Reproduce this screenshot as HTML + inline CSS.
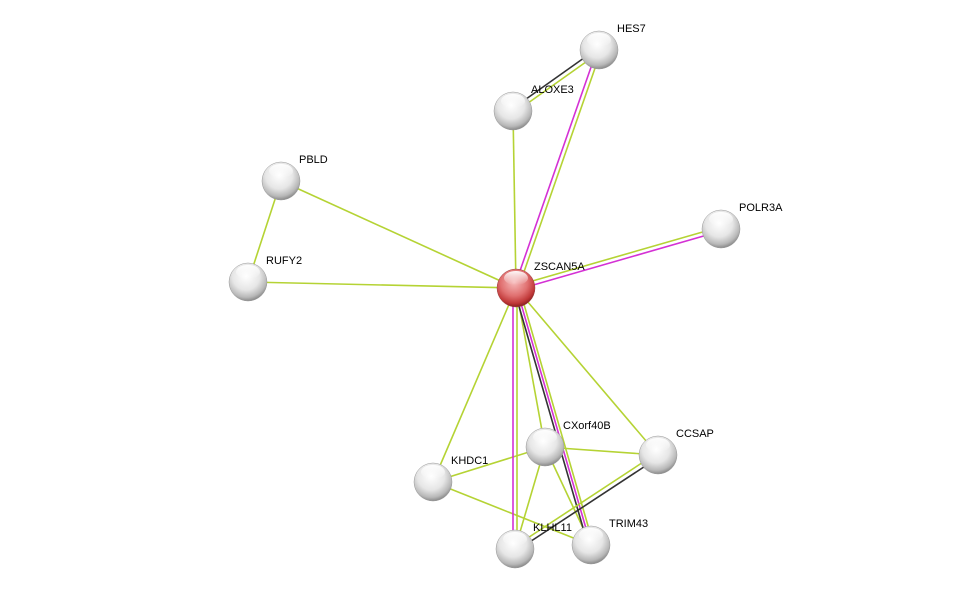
<!DOCTYPE html>
<html><head><meta charset="utf-8"><style>
html,body{margin:0;padding:0;background:#fff;}
svg{display:block;}
text{font-family:"Liberation Sans",sans-serif;font-size:11px;fill:#000;}
</style></head><body>
<svg width="976" height="595" viewBox="0 0 976 595">
<defs>
<radialGradient id="g" cx="45%" cy="35%" r="65%">
<stop offset="0" stop-color="#fff"/><stop offset="0.55" stop-color="#e6e6e6"/><stop offset="0.85" stop-color="#b8b8b8"/><stop offset="1" stop-color="#8a8a8a"/>
</radialGradient>
<radialGradient id="r" cx="45%" cy="35%" r="65%">
<stop offset="0" stop-color="#f6b8b8"/><stop offset="0.55" stop-color="#e07070"/><stop offset="0.85" stop-color="#c03838"/><stop offset="1" stop-color="#8a2020"/>
</radialGradient>
<linearGradient id="hl" x1="0" y1="0" x2="0" y2="1">
<stop offset="0" stop-color="#fff" stop-opacity="0.95"/><stop offset="1" stop-color="#fff" stop-opacity="0"/>
</linearGradient>
</defs>
<g stroke-width="1.6" fill="none">
<!-- single green -->
<g stroke="#b5d334">
<line x1="516" y1="288" x2="513" y2="111"/>
<line x1="516" y1="288" x2="281" y2="181"/>
<line x1="281" y1="181" x2="248" y2="282"/>
<line x1="248" y1="282" x2="516" y2="288"/>
<line x1="516" y1="288" x2="433" y2="482"/>
<line x1="516" y1="288" x2="545" y2="447"/>
<line x1="516" y1="288" x2="658" y2="455"/>
<line x1="433" y1="482" x2="545" y2="447"/>
<line x1="433" y1="482" x2="591" y2="545"/>
<line x1="545" y1="447" x2="658" y2="455"/>
<line x1="545" y1="447" x2="515" y2="549"/>
<line x1="545" y1="447" x2="591" y2="545"/>
</g>
<!-- HES7 -->
<line x1="514" y1="288" x2="597" y2="50" stroke="#d431d4"/>
<line x1="518" y1="289" x2="601" y2="51" stroke="#b5d334"/>
<!-- ALOXE3-HES7 -->
<line x1="512" y1="109" x2="598" y2="48" stroke="#333"/>
<line x1="514" y1="113" x2="600" y2="52" stroke="#b5d334"/>
<!-- POLR3A -->
<line x1="516" y1="290" x2="721" y2="231" stroke="#d431d4"/>
<line x1="515" y1="286" x2="720" y2="227" stroke="#b5d334"/>
<!-- KLHL11 -->
<line x1="513" y1="288" x2="513" y2="549" stroke="#d431d4"/>
<line x1="517" y1="288" x2="517" y2="549" stroke="#b5d334"/>
<!-- TRIM43 triple -->
<line x1="514" y1="289" x2="588" y2="545" stroke="#333"/>
<line x1="516.5" y1="288" x2="590.5" y2="544" stroke="#d431d4"/>
<line x1="519" y1="287" x2="593" y2="543" stroke="#b5d334"/>
<!-- CCSAP-KLHL11 -->
<line x1="659" y1="457" x2="516" y2="551" stroke="#333"/>
<line x1="657" y1="453" x2="514" y2="547" stroke="#b5d334"/>
</g>
<g>
<circle cx="599" cy="50" r="19" fill="url(#g)" stroke="#999" stroke-width="0.5"/>
<circle cx="513" cy="111" r="19" fill="url(#g)" stroke="#999" stroke-width="0.5"/>
<circle cx="281" cy="181" r="19" fill="url(#g)" stroke="#999" stroke-width="0.5"/>
<circle cx="721" cy="229" r="19" fill="url(#g)" stroke="#999" stroke-width="0.5"/>
<circle cx="248" cy="282" r="19" fill="url(#g)" stroke="#999" stroke-width="0.5"/>
<circle cx="516" cy="288" r="19" fill="url(#r)" stroke="#944" stroke-width="0.5"/>
<circle cx="545" cy="447" r="19" fill="url(#g)" stroke="#999" stroke-width="0.5"/>
<circle cx="658" cy="455" r="19" fill="url(#g)" stroke="#999" stroke-width="0.5"/>
<circle cx="433" cy="482" r="19" fill="url(#g)" stroke="#999" stroke-width="0.5"/>
<circle cx="515" cy="549" r="19" fill="url(#g)" stroke="#999" stroke-width="0.5"/>
<circle cx="591" cy="545" r="19" fill="url(#g)" stroke="#999" stroke-width="0.5"/>
</g>
<g fill="url(#hl)">
<ellipse cx="599" cy="40" rx="12" ry="7"/><ellipse cx="513" cy="101" rx="12" ry="7"/>
<ellipse cx="281" cy="171" rx="12" ry="7"/><ellipse cx="721" cy="219" rx="12" ry="7"/>
<ellipse cx="248" cy="272" rx="12" ry="7"/><ellipse cx="516" cy="278" rx="12" ry="7"/>
<ellipse cx="545" cy="437" rx="12" ry="7"/><ellipse cx="658" cy="445" rx="12" ry="7"/>
<ellipse cx="433" cy="472" rx="12" ry="7"/><ellipse cx="515" cy="539" rx="12" ry="7"/>
<ellipse cx="591" cy="535" rx="12" ry="7"/>
</g>
<text x="617" y="32">HES7</text>
<text x="531" y="93">ALOXE3</text>
<text x="299" y="163">PBLD</text>
<text x="739" y="211">POLR3A</text>
<text x="266" y="264">RUFY2</text>
<text x="534" y="270">ZSCAN5A</text>
<text x="563" y="429">CXorf40B</text>
<text x="676" y="437">CCSAP</text>
<text x="451" y="464">KHDC1</text>
<text x="533" y="531">KLHL11</text>
<text x="609" y="527">TRIM43</text>
</svg>
</body></html>
